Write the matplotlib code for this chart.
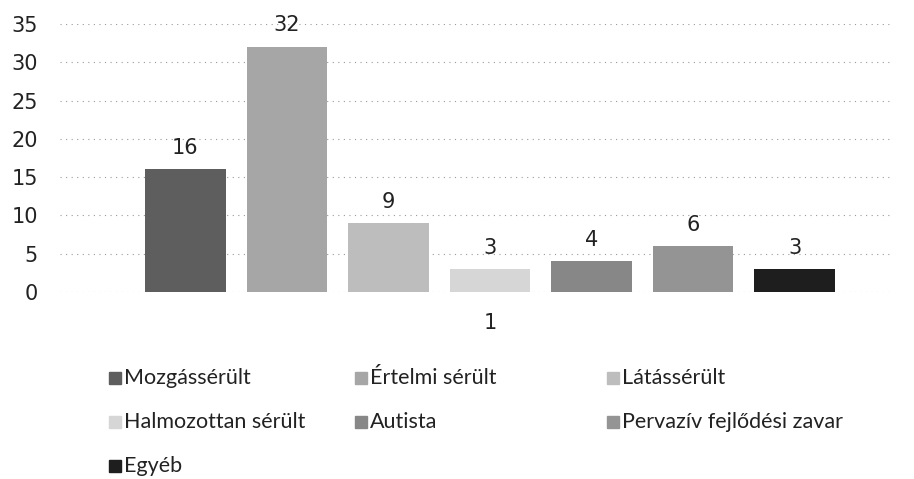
import matplotlib.pyplot as plt
from matplotlib.patches import Rectangle

categories = ["1"]
series = ["Mozgássérült", "Értelmi sérült", "Látássérült",
          "Halmozottan sérült", "Autista", "Pervazív fejlődési zavar", "Egyéb"]
values = [16, 32, 9, 3, 4, 6, 3]
colors = ["#5e5e5e", "#a6a6a6", "#bdbdbd", "#d6d6d6", "#878787", "#949494", "#1e1e1e"]

fig = plt.figure(figsize=(9.14, 4.79), dpi=100)
ax = fig.add_axes([60 / 914, 1 - 292 / 479, 830 / 914, 268 / 479])

n = len(series)
w = 0.79
for i, (name, v, c) in enumerate(zip(series, values, colors)):
    x = i - (n - 1) / 2
    ax.bar(x, v, width=w, color=c, edgecolor="none", zorder=2)
    ax.text(x, v + 1.5, str(v), ha="center", va="bottom", fontsize=15, color="#222222")

ax.set_xlim((60 - 490) / 101.5, (890 - 490) / 101.5)
ax.set_ylim(0, 35)
ax.set_yticks(range(0, 36, 5))
ax.set_xticks([0])
ax.set_xticklabels(categories)
ax.tick_params(length=0, labelsize=15, colors="#222222")
ax.tick_params(axis="y", pad=16)
ax.tick_params(axis="x", pad=15)
ax.yaxis.grid(True, linestyle=(0, (1, 4)), color="#9a9a9a", linewidth=0.8, zorder=0)
for s in ax.spines.values():
    s.set_visible(False)

# legend, three columns laid out row by row
col_x = [109, 355, 607]
row_y = [378, 422, 466]
for i, (name, c) in enumerate(zip(series, colors)):
    px = col_x[i % 3]
    py = row_y[i // 3]
    fig.patches.append(Rectangle((px / 914, 1 - (py + 6) / 479), 12 / 914, 12 / 479,
                                 transform=fig.transFigure, color=c))
    fig.text((px + 15) / 914, 1 - py / 479, name, fontsize=15.5, family="Lato",
             va="center", ha="left", color="#222222")

fig.savefig("out.png", dpi=100)
